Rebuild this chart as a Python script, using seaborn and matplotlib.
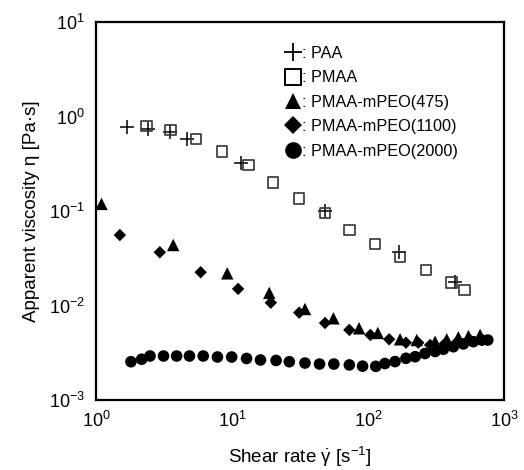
"""Apparent viscosity vs shear rate for PAA / PMAA / PMAA-mPEO samples."""
import matplotlib

matplotlib.use("Agg")
import matplotlib.pyplot as plt
import pandas as pd
import seaborn as sns
from matplotlib.lines import Line2D

# shear rate [1/s] and apparent viscosity [Pa s]
paa_rate = [1.70, 2.42, 3.50, 4.69, 11.6, 47.9, 169, 436]
paa_visc = [0.784, 0.738, 0.686, 0.585, 0.320, 0.100, 0.0372, 0.0177]

pmaa_rate = [2.36, 3.54, 5.44, 8.48, 13.2, 20.1, 31.1, 48.3, 72.9, 113, 172,
             267, 412, 511]
pmaa_visc = [0.792, 0.719, 0.578, 0.425, 0.307, 0.201, 0.136, 0.096, 0.063,
             0.0448, 0.0328, 0.0238, 0.0176, 0.0146]

m475_rate = [1.10, 3.70, 9.23, 18.8, 34.4, 55.7, 85.9, 118, 172, 228, 311,
             379, 461, 547, 666]
m475_visc = [0.119, 0.0437, 0.0219, 0.0136, 0.00918, 0.00732, 0.00574,
             0.00512, 0.00439, 0.00431, 0.00414, 0.00439, 0.00461, 0.00475,
             0.00488]

m1100_rate = [1.50, 2.95, 5.89, 11.1, 19.3, 31.2, 48.3, 72.9, 104, 143, 190,
              234, 286, 368, 459, 562, 689]
m1100_visc = [0.0557, 0.0366, 0.0225, 0.0150, 0.0107, 0.0084, 0.00653,
              0.00551, 0.00488, 0.00439, 0.00404, 0.00404, 0.00382, 0.00396,
              0.00421, 0.00431, 0.00431]

m2000_rate = [1.81, 2.17, 2.50, 3.14, 3.92, 4.87, 6.15, 7.82, 9.95, 12.8,
              16.2, 21.1, 26.4, 34.4, 44.0, 56.1, 72.9, 91.2, 114, 133, 158,
              190, 222, 262, 311, 358, 424, 502, 594, 685, 759]
m2000_visc = [0.00254, 0.00270, 0.00292, 0.00292, 0.00292, 0.00292, 0.00292,
              0.00285, 0.00285, 0.00275, 0.00265, 0.00262, 0.00254, 0.00246,
              0.00240, 0.00240, 0.00235, 0.00228, 0.00227, 0.00243, 0.00255,
              0.00276, 0.00287, 0.00310, 0.00326, 0.00344, 0.00366, 0.00392,
              0.00414, 0.00431, 0.00431]

series_names = ["PAA", "PMAA", "PMAA-mPEO(475)", "PMAA-mPEO(1100)",
                "PMAA-mPEO(2000)"]
x_ticks = [1, 10, 100, 1000]
y_ticks = [1e-3, 1e-2, 1e-1, 1, 10]

sns.set_theme(style="white")
plt.rcParams["font.family"] = ["Liberation Sans", "DejaVu Sans"]
plt.rcParams["mathtext.fontset"] = "custom"
plt.rcParams["mathtext.rm"] = "Liberation Sans"
plt.rcParams["mathtext.it"] = "Liberation Sans:italic"
plt.rcParams["mathtext.bf"] = "Liberation Sans:bold"
plt.rcParams["text.color"] = "black"
plt.rcParams["axes.labelcolor"] = "black"

frames = {
    "PAA": pd.DataFrame({"rate": paa_rate, "visc": paa_visc}),
    "PMAA": pd.DataFrame({"rate": pmaa_rate, "visc": pmaa_visc}),
    "PMAA-mPEO(475)": pd.DataFrame({"rate": m475_rate, "visc": m475_visc}),
    "PMAA-mPEO(1100)": pd.DataFrame({"rate": m1100_rate, "visc": m1100_visc}),
    "PMAA-mPEO(2000)": pd.DataFrame({"rate": m2000_rate, "visc": m2000_visc}),
}
styles = {
    "PAA": dict(marker="+", s=110, color="black", linewidth=1.1),
    "PMAA": dict(marker="s", s=56, facecolor="none", edgecolor="#333333",
                 linewidth=1.2),
    "PMAA-mPEO(475)": dict(marker="^", s=80, color="black", edgecolor="none"),
    "PMAA-mPEO(1100)": dict(marker="D", s=40, color="black", edgecolor="none"),
    "PMAA-mPEO(2000)": dict(marker="o", s=70, color="black", edgecolor="none"),
}

fig, ax = plt.subplots(figsize=(5.24, 4.70), dpi=100)
fig.subplots_adjust(left=0.183, right=0.962, top=0.953, bottom=0.149)

for name in series_names:
    sns.scatterplot(data=frames[name], x="rate", y="visc", ax=ax,
                    legend=False, **styles[name])

ax.set_xscale("log")
ax.set_yscale("log")
ax.set_xlim(1, 1000)
ax.set_ylim(1e-3, 10)
ax.set_xticks(x_ticks)
ax.set_yticks(y_ticks)
ax.minorticks_off()
ax.tick_params(direction="in", length=6, width=1.5, labelsize=13, pad=8,
               color="black", labelcolor="black")
for spine in ax.spines.values():
    spine.set_linewidth(1.6)
    spine.set_color("black")

ax.set_xlabel(r"Shear rate $\dot{\mathrm{\gamma}}$ [s$^{-1}$]", fontsize=13.5,
              labelpad=10)
ax.set_ylabel("Apparent viscosity η [Pa·s]", fontsize=13.5, labelpad=6)

# legend: marker followed by ": name", no frame
handles = [
    Line2D([], [], ls="none", marker="+", ms=13, mew=1.3, color="black"),
    Line2D([], [], ls="none", marker="s", ms=11, mew=1.4, mfc="none",
           mec="black"),
    Line2D([], [], ls="none", marker="^", ms=12, color="black", mew=0),
    Line2D([], [], ls="none", marker="D", ms=9, color="black", mew=0),
    Line2D([], [], ls="none", marker="o", ms=12, color="black", mew=0),
]
ax.legend(handles, [f": {n}" for n in series_names], loc="upper left",
          bbox_to_anchor=(0.462, 0.937), frameon=False, fontsize=11.7,
          handletextpad=0.1, handlelength=1.0, labelspacing=0.58,
          borderpad=0, borderaxespad=0)

fig.savefig("out.png", dpi=100)
plt.close(fig)
